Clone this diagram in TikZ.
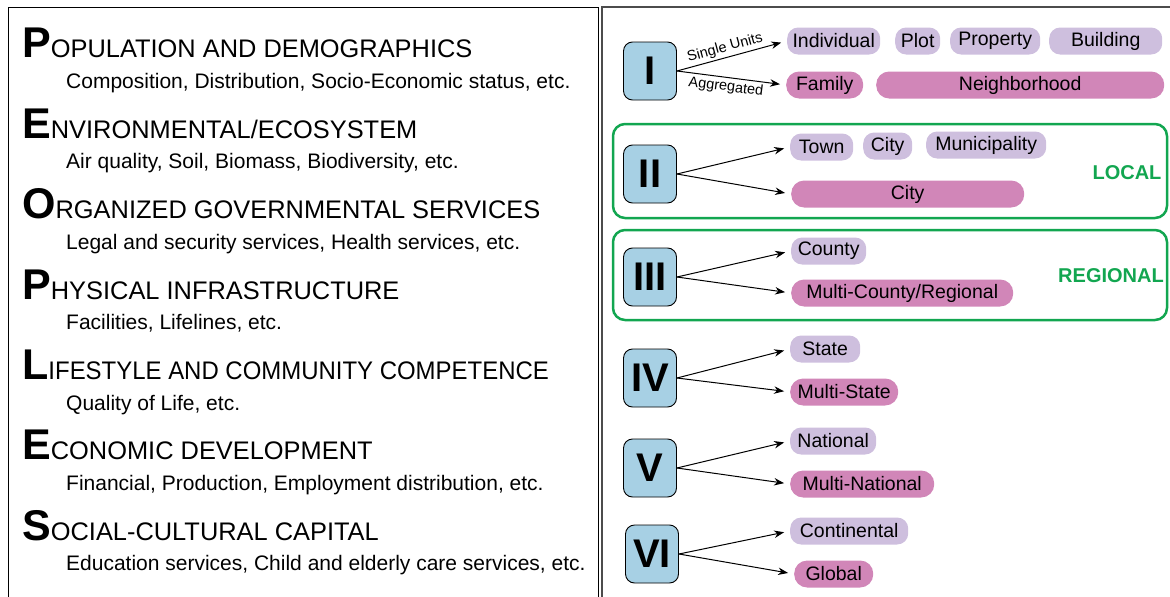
\documentclass[tikz,border=0pt]{standalone}
\usepackage{fontspec}
\usepackage{graphicx}
\setmainfont{Liberation Sans}
\usetikzlibrary{arrows.meta}

\definecolor{levelblue}{HTML}{A7D0E4}
\definecolor{unitlilac}{HTML}{CEBFDE}
\definecolor{unitpink}{HTML}{D186B8}
\definecolor{framegreen}{HTML}{12A650}

\newcommand{\dimcap}[2]{{\fontsize{43}{43}\selectfont\bfseries #1}{\fontsize{25.4}{26}\selectfont #2}}

\tikzset{
  dimhead/.style={anchor=base west, inner sep=0pt},
  dimsub/.style={anchor=base west, inner sep=0pt, font=\fontsize{21}{23}\selectfont},
  level/.style={draw=black, fill=levelblue, rounded corners=9pt, line width=0.9pt,
    minimum width=53pt, minimum height=58pt, inner sep=0pt,
    font=\fontsize{40}{40}\selectfont\bfseries},
  single/.style={fill=unitlilac, rounded corners=11pt, anchor=west, minimum height=27pt,
    inner sep=0pt, font=\fontsize{19.5}{21}\selectfont},
  aggr/.style={single, fill=unitpink, rounded corners=13pt},
  scalelabel/.style={text=framegreen, font=\fontsize{20}{20}\selectfont\bfseries},
  link/.style={-{Stealth[length=10pt,width=7.5pt]}, line width=1pt, shorten >=6pt},
  linklabel/.style={sloped, pos=0.46, inner sep=2.5pt, font=\fontsize{14.5}{15}\selectfont}
}

\begin{document}
\begin{tikzpicture}[x=1pt,y=-1pt]
  \useasboundingbox (0,0) rectangle (1170,597);
  \clip (0,0) rectangle (1170,597);

  % outer frames
  \draw[line width=1pt] (8,7) rectangle (598,620);
  \draw[line width=1.2pt, black!70] (602,7) rectangle (1190,620);

  % PEOPLES dimensions
  \node[dimhead] (pop) at (22,57) {\dimcap{P}{OPULATION AND DEMOGRAPHICS}};
  \node[dimsub] (popsub) at (66,88) {Composition, Distribution, Socio-Economic status, etc.};
  \node[dimhead] (env) at (22,138) {\dimcap{E}{NVIRONMENTAL/ECOSYSTEM}};
  \node[dimsub] (envsub) at (66,168) {Air quality, Soil, Biomass, Biodiversity, etc.};
  \node[dimhead] (org) at (22,218) {\dimcap{O}{RGANIZED GOVERNMENTAL SERVICES}};
  \node[dimsub] (orgsub) at (66,249) {Legal and security services, Health services, etc.};
  \node[dimhead] (phy) at (22,299) {\dimcap{P}{HYSICAL INFRASTRUCTURE}};
  \node[dimsub] (physub) at (66,329) {Facilities, Lifelines, etc.};
  \node[dimhead] (life) at (22,379) {\dimcap{L}{\scalebox{0.943}[1]{IFESTYLE AND COMMUNITY COMPETENCE}}};
  \node[dimsub] (lifesub) at (66,410) {Quality of Life, etc.};
  \node[dimhead] (eco) at (22,459) {\dimcap{E}{CONOMIC DEVELOPMENT}};
  \node[dimsub] (ecosub) at (66,490) {Financial, Production, Employment distribution, etc.};
  \node[dimhead] (soc) at (22,540) {\dimcap{S}{OCIAL-CULTURAL CAPITAL}};
  \node[dimsub] (socsub) at (66,570) {Education services, Child and elderly care services, etc.};

  % local and regional frames
  \draw[framegreen, line width=2.5pt, rounded corners=12pt] (613,124) rectangle (1167,218);
  \draw[framegreen, line width=2.5pt, rounded corners=12pt] (613,230) rectangle (1167,320);
  \node[scalelabel] (local) at (1127,173) {LOCAL};
  \node[scalelabel] (regional) at (1111,276) {REGIONAL};

  % level I
  \node[level] (lvI) at (650,71) {I};
  \node[single, minimum width=93pt] (individual) at (787,41) {Individual};
  \node[single, minimum width=45pt] (plot) at (895,41) {Plot};
  \node[single, minimum width=90pt] (property) at (950,41) {Property};
  \node[single, minimum width=113pt] (building) at (1049,41) {Building};
  \node[aggr, minimum width=77pt] (family) at (786,85) {Family};
  \node[aggr, minimum width=288pt] (neighborhood) at (876,85) {Neighborhood};
  \path[link] (lvI.east) edge node[linklabel, above] {Single Units} (individual.west);
  \path[link] (lvI.east) edge node[linklabel, below] {Aggregated} (family.west);

  % level II
  \node[level] (lvII) at (650,174) {II};
  \node[single, minimum width=63pt] (town) at (790,147) {Town};
  \node[single, minimum width=49pt] (city) at (863,146) {City};
  \node[single, minimum width=120pt] (municipality) at (926,145) {Municipality};
  \node[aggr, minimum width=233pt] (citybig) at (791,194) {City};
  \path[link] (lvII.east) edge (town.west);
  \path[link] (lvII.east) edge (citybig.west);

  % level III
  \node[level] (lvIII) at (650,277) {III};
  \node[single, minimum width=75pt] (county) at (791,251) {County};
  \node[aggr, minimum width=222pt] (multicounty) at (791,293) {Multi-County/Regional};
  \path[link] (lvIII.east) edge (county.west);
  \path[link] (lvIII.east) edge (multicounty.west);

  % level IV
  \node[level] (lvIV) at (650,378) {IV};
  \node[single, minimum width=70pt] (state) at (790,349) {State};
  \node[aggr, minimum width=108pt] (multistate) at (790,392) {Multi-State};
  \path[link] (lvIV.east) edge (state.west);
  \path[link] (lvIV.east) edge (multistate.west);

  % level V
  \node[level] (lvV) at (650,468) {V};
  \node[single, minimum width=86pt] (national) at (790,441) {National};
  \node[aggr, minimum width=144pt] (multinational) at (790,484) {Multi-National};
  \path[link] (lvV.east) edge (national.west);
  \path[link] (lvV.east) edge (multinational.west);

  % level VI
  \node[level] (lvVI) at (652,554) {VI};
  \node[single, minimum width=118pt] (continental) at (790,531) {Continental};
  \node[aggr, minimum width=79pt] (global) at (794,574) {Global};
  \path[link] (lvVI.east) edge (continental.west);
  \path[link] (lvVI.east) edge (global.west);

\end{tikzpicture}
\end{document}
